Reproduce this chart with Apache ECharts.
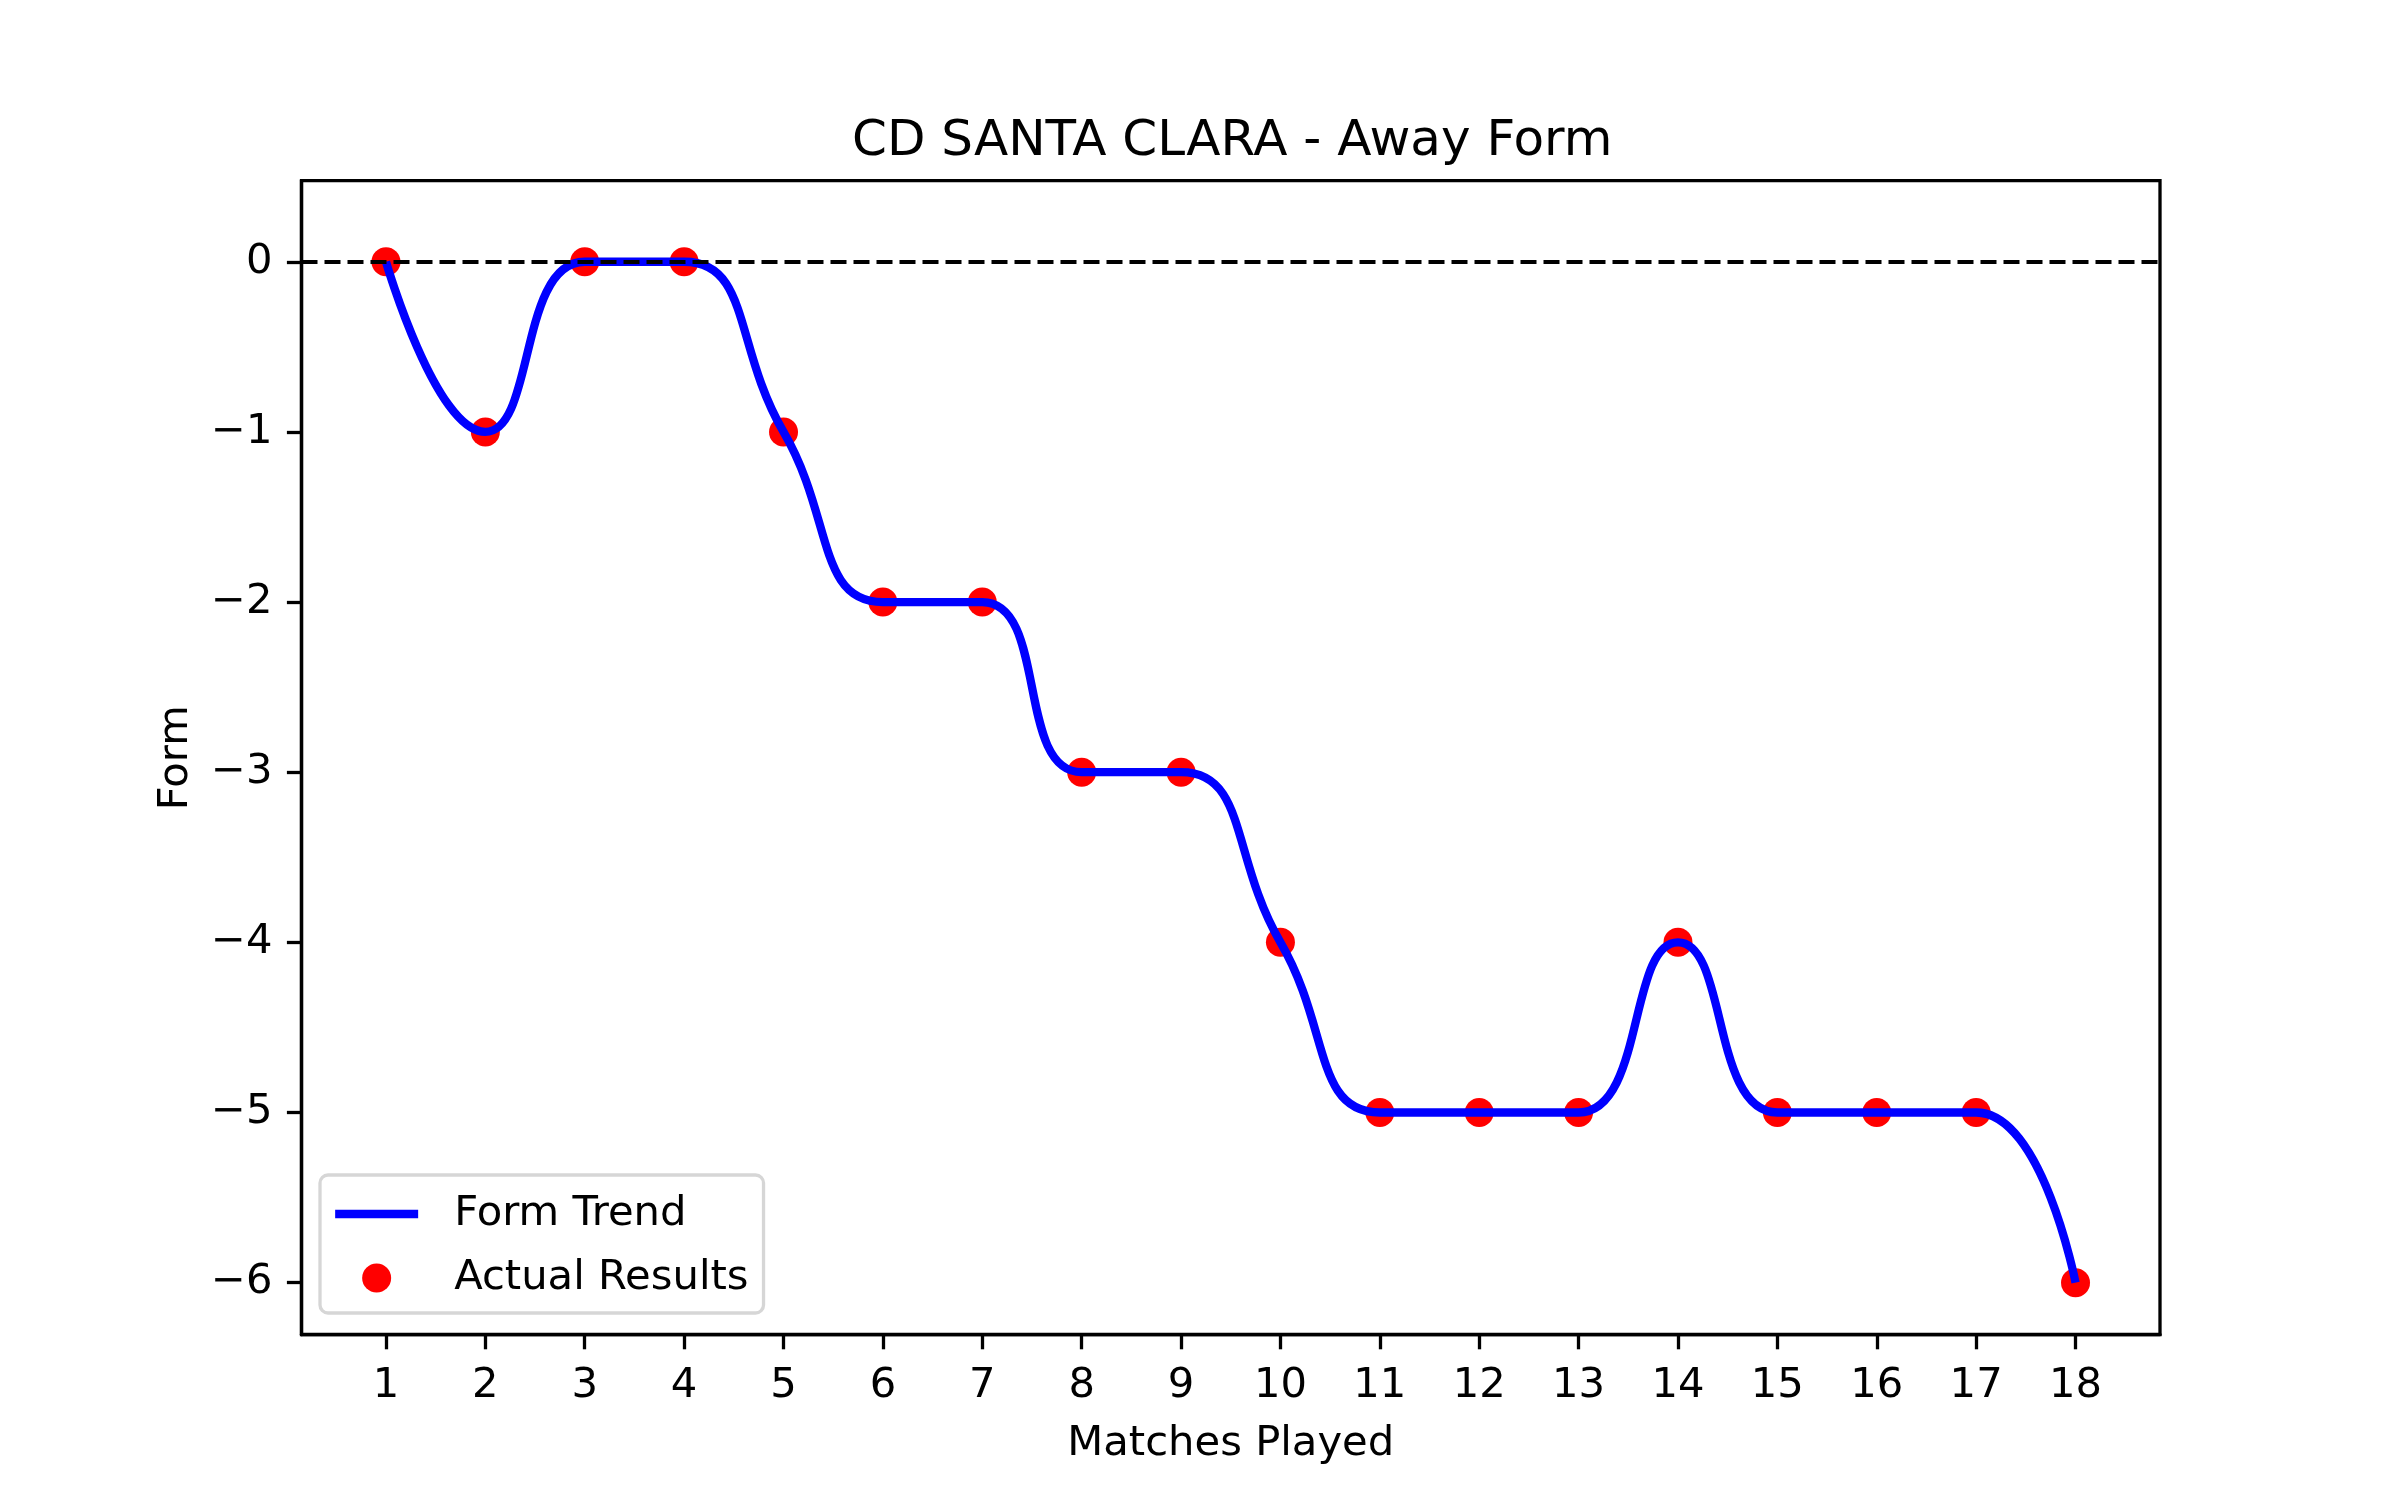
<!DOCTYPE html>
<html>
<head>
<meta charset="utf-8">
<title>CD SANTA CLARA - Away Form</title>
<script src="https://cdn.jsdelivr.net/npm/echarts@6/dist/echarts.min.js"></script>
<style>
  html, body { margin: 0; padding: 0; background: #fff; }
  #main { width: 2400px; height: 1500px; }
</style>
</head>
<body>
<div id="main"></div>
<script>
// match number and away form after each match
var matches = [1, 2, 3, 4, 5, 6, 7, 8, 9, 10, 11, 12, 13, 14, 15, 16, 17, 18];
var form = [0, -1, 0, 0, -1, -2, -2, -3, -3, -4, -5, -5, -5, -4, -5, -5, -5, -6];
var xTicks = matches;
var yTicks = [-6, -5, -4, -3, -2, -1, 0];

var points = matches.map(function (m, i) { return [m, form[i]]; });

var font = 'DejaVu Sans';
var chart = echarts.init(document.getElementById('main'));

function minusLabel(v) {
  return v < 0 ? '\u2212' + Math.abs(v) : String(v);
}

var option = {
  backgroundColor: '#ffffff',
  animation: false,
  textStyle: { fontFamily: font, color: '#000' },
  title: {
    text: 'CD SANTA CLARA - Away Form',
    left: 852,
    top: 117,
    padding: 0,
    textStyle: { fontFamily: font, fontSize: 50, fontWeight: 'normal', color: '#000' }
  },
  grid: {
    left: 301.5, right: 240, top: 180.6, bottom: 165.3,
    show: true, borderColor: '#000', borderWidth: 3.3, backgroundColor: 'transparent'
  },
  legend: {
    orient: 'vertical',
    left: 320,
    top: 1175,
    padding: [18, 15, 14, 11],
    itemWidth: 83,
    itemHeight: 29,
    itemGap: 22,
    backgroundColor: '#fff',
    borderColor: '#d6d6d6',
    borderWidth: 3.3,
    borderRadius: 8,
    textStyle: { fontFamily: font, fontSize: 41.7, color: '#000', padding: [0, 0, 0, 31] },
    data: [
      { name: 'Form Trend', itemStyle: { opacity: 0 }, lineStyle: { width: 8.3, color: '#0000ff' } },
      { name: 'Actual Results', icon: 'circle' }
    ]
  },
  xAxis: {
    type: 'value',
    min: 0.15,
    max: 18.85,
    name: 'Matches Played',
    nameLocation: 'middle',
    nameGap: 88,
    nameTextStyle: { fontFamily: font, fontSize: 41.7, color: '#000' },
    axisLine: { show: true, onZero: false, lineStyle: { color: '#000', width: 3.3 } },
    axisTick: { show: true, length: 14.6, lineStyle: { color: '#000', width: 3.3 }, customValues: xTicks },
    axisLabel: { fontSize: 41.7, color: '#000', margin: 30, customValues: xTicks },
    splitLine: { show: false }
  },
  yAxis: {
    type: 'value',
    min: -6.306,
    max: 0.477,
    name: 'Form',
    nameLocation: 'middle',
    nameGap: 104,
    nameTextStyle: { fontFamily: font, fontSize: 41.7, color: '#000' },
    axisLine: { show: true, onZero: false, lineStyle: { color: '#000', width: 3.3 } },
    axisTick: { show: true, length: 14.6, lineStyle: { color: '#000', width: 3.3 }, customValues: yTicks },
    axisLabel: { fontSize: 41.7, color: '#000', margin: 29, customValues: yTicks, formatter: minusLabel },
    splitLine: { show: false }
  },
  series: [
    {
      name: 'Actual Results',
      type: 'scatter',
      data: points,
      symbol: 'circle',
      symbolSize: 29,
      itemStyle: { color: '#ff0000', opacity: 1 },
      z: 1
    },
    {
      name: 'Form Trend',
      type: 'line',
      data: points,
      smooth: 0.5,
      symbol: 'none',
      lineStyle: { color: '#0000ff', width: 8.3 },
      itemStyle: { color: '#0000ff' },
      z: 2,
      markLine: {
        silent: true,
        symbol: 'none',
        label: { show: false },
        lineStyle: { color: '#000', type: [16, 7], width: 4.2 },
        data: [{ yAxis: 0 }]
      }
    }
  ]
};

chart.setOption(option);
</script>
</body>
</html>
